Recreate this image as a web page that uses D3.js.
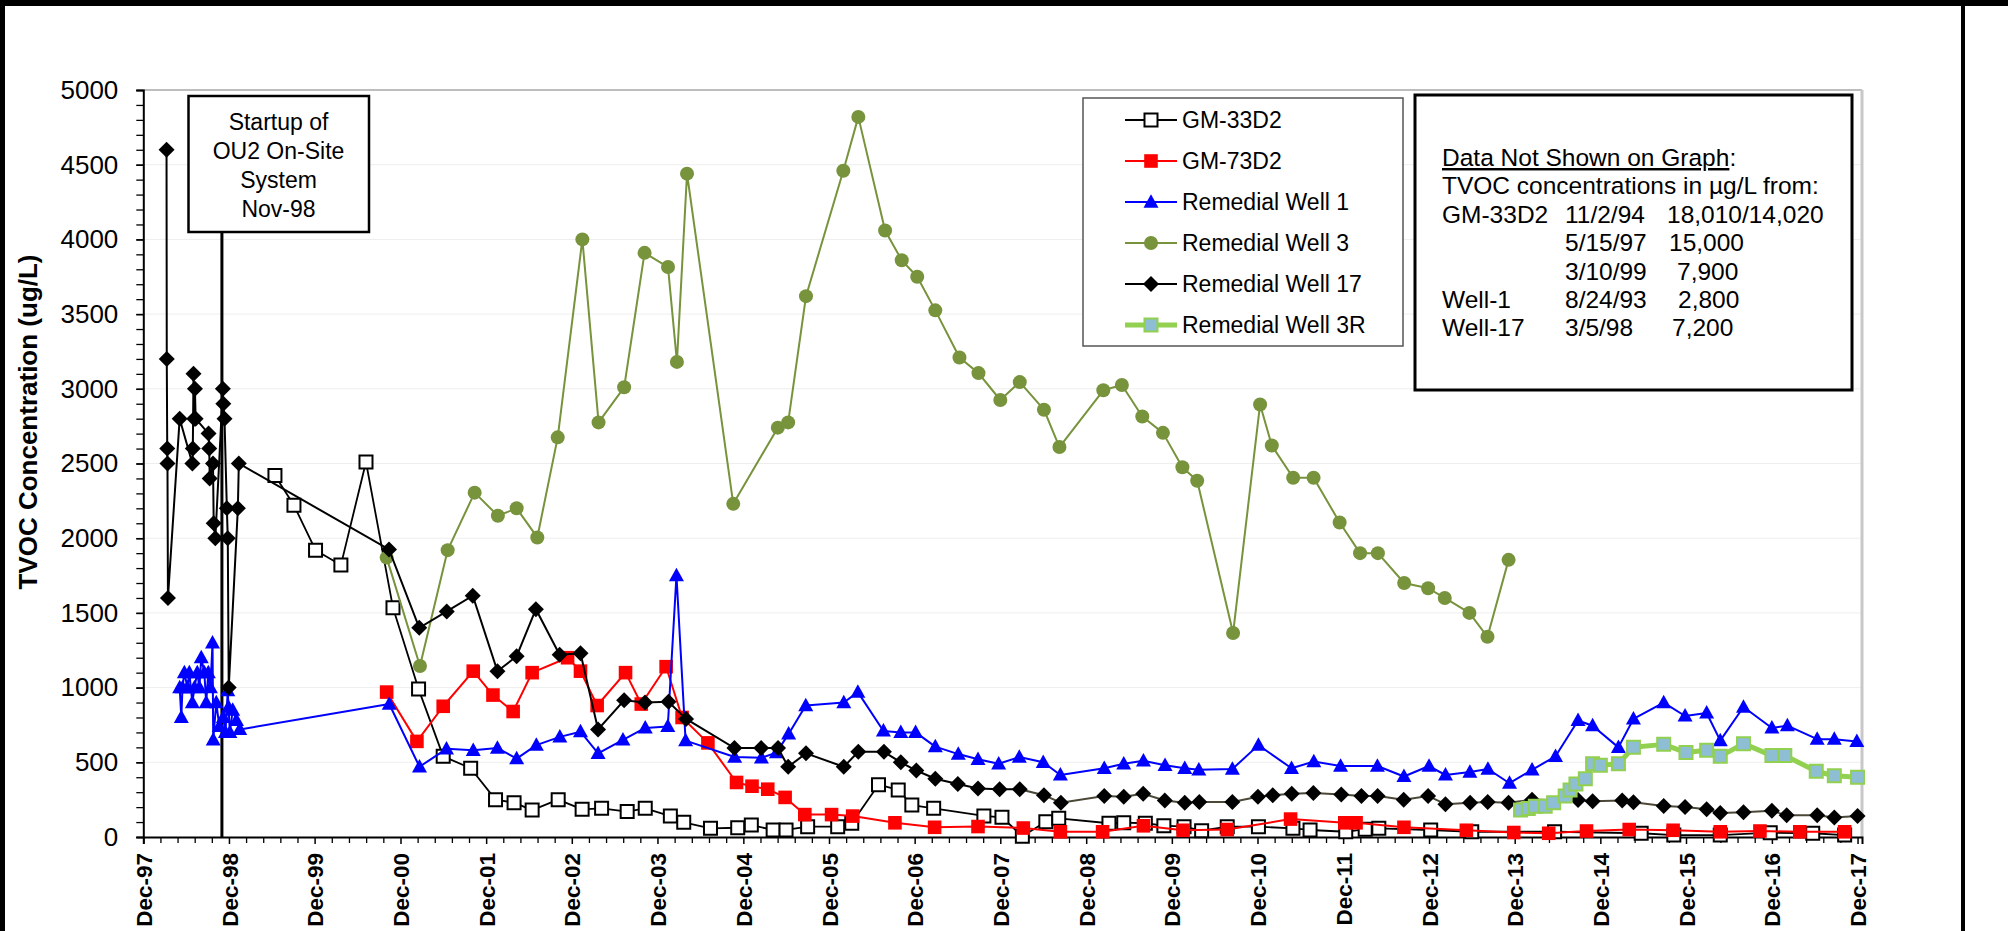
<!DOCTYPE html>
<html><head><meta charset="utf-8">
<script src="https://cdn.jsdelivr.net/npm/d3@7"></script>
<style>
body{margin:0;background:#fff;}
svg{display:block;font-family:Arial,"Liberation Sans",sans-serif;}
</style>
</head><body>
<svg id="c" width="2008" height="931"></svg>
<script>
// ---------------- DATA ----------------
const seriesNames = ["GM-33D2","GM-73D2","Remedial Well 1","Remedial Well 3","Remedial Well 17","Remedial Well 3R"];

const gm33d2 = [
["1999-06-15",2420],["1999-09-04",2220],["1999-12-05",1920],["2000-03-22",1820],["2000-07-07",2510],
["2000-10-30",1535],["2001-02-16",990],["2001-06-01",540],["2001-09-26",460],["2002-01-10",250],
["2002-03-30",230],["2002-06-15",180],["2002-10-04",250],["2003-01-14",185],["2003-04-07",192],
["2003-07-25",170],["2003-10-10",192],["2004-01-25",140],["2004-03-22",98],["2004-07-14",58],
["2004-11-07",62],["2005-01-04",80],["2005-04-07",47],["2005-06-01",47],["2005-09-01",69],
["2006-01-07",69],["2006-03-08",92],["2006-06-30",350],["2006-09-22",315],["2006-11-19",214],
["2007-02-20",192],["2007-09-22",141],["2007-12-08",132],["2008-03-04",5],["2008-06-12",102],
["2008-08-06",125],["2009-03-08",92],["2009-05-10",96],["2009-08-10",92],["2009-10-28",76],
["2010-01-22",69],["2010-04-07",42],["2010-07-25",69],["2010-12-05",69],["2011-05-01",58],
["2011-07-13",47],["2011-12-12",35],["2012-03-04",52],["2012-05-01",58],["2012-12-08",47],
["2013-06-01",35],["2014-05-20",35],["2015-05-24",25],["2015-10-10",13],["2016-04-25",13],
["2016-11-24",29],["2017-05-24",25],["2017-10-07",13]
];

const gm73d2 = [
["2000-10-03",970],["2001-02-09",640],["2001-06-01",875],["2001-10-07",1110],["2001-12-30",950],
["2002-03-26",840],["2002-06-15",1100],["2002-11-13",1200],["2003-01-07",1110],["2003-03-19",880],
["2003-07-18",1100],["2003-09-23",890],["2004-01-07",1140],["2004-03-15",800],["2004-07-03",630],
["2004-11-02",365],["2005-01-07",340],["2005-03-15",320],["2005-05-28",265],["2005-08-20",150],
["2005-12-12",150],["2006-03-12",140],["2006-09-08",95],["2007-02-24",65],["2007-08-28",70],
["2008-03-08",60],["2008-08-13",35],["2009-02-09",35],["2009-08-02",75],["2010-01-18",45],
["2010-07-25",50],["2011-04-21",120],["2011-12-08",95],["2012-01-25",95],["2012-08-16",65],
["2013-05-09",45],["2013-11-27",30],["2014-04-25",25],["2014-10-03",40],["2015-04-03",50],
["2015-10-07",45],["2016-04-25",35],["2016-10-11",40],["2017-03-30",35],["2017-10-07",35]
];

const well1 = [
["1998-05-05",1000],["1998-05-12",800],["1998-05-17",1000],["1998-05-25",1100],["1998-06-07",1000],
["1998-06-15",1100],["1998-06-28",900],["1998-07-07",1000],["1998-07-19",1100],["1998-07-28",1000],
["1998-08-05",1200],["1998-08-18",1100],["1998-08-26",900],["1998-09-04",1100],["1998-09-13",1000],
["1998-09-22",1300],["1998-09-25",650],["1998-10-08",900],["1998-10-21",740],["1998-11-07",800],
["1998-11-16",700],["1998-11-26",980],["1998-11-29",870],["1998-12-05",700],["1998-12-17",850],
["1999-01-02",780],["1999-01-16",720],
["2000-10-14",890],["2001-02-20",470],["2001-06-15",590],["2001-10-07",580],["2002-01-18",595],
["2002-04-10",525],["2002-07-03",615],["2002-10-11",670],["2003-01-07",705],["2003-03-23",560],
["2003-07-07",650],["2003-10-10",730],["2004-01-14",740],["2004-02-20",1750],["2004-03-30",645],
["2004-10-25",535],["2005-02-16",530],["2005-04-21",565],["2005-06-12",690],["2005-08-24",880],
["2006-02-02",900],["2006-04-03",970],["2006-07-21",710],["2006-10-03",700],["2006-12-05",700],
["2007-02-27",605],["2007-06-05",555],["2007-08-28",520],["2007-11-24",490],["2008-02-20",535],
["2008-06-01",500],["2008-08-13",415],["2009-02-16",460],["2009-05-10",490],["2009-08-02",510],
["2009-11-02",480],["2010-01-25",460],["2010-03-26",450],["2010-08-16",455],["2010-12-05",615],
["2011-04-25",460],["2011-07-29",505],["2011-11-20",475],["2012-04-25",475],["2012-08-16",405],
["2012-12-01",475],["2013-02-09",415],["2013-05-24",435],["2013-08-09",455],["2013-11-09",360],
["2014-02-13",450],["2014-05-24",540],["2014-08-28",780],["2014-10-29",745],["2015-02-16",600],
["2015-04-21",790],["2015-08-28",900],["2015-11-27",810],["2016-02-27",830],["2016-04-25",645],
["2016-08-02",870],["2016-12-01",730],["2017-02-05",745],["2017-06-12",655],["2017-08-24",655],
["2017-11-28",640]
];

const well3 = [
["2000-10-03",1870],["2001-02-22",1145],["2001-06-20",1920],["2001-10-13",2305],["2002-01-20",2150],
["2002-04-10",2200],["2002-07-07",2005],["2002-10-02",2675],["2003-01-15",4000],["2003-03-25",2775],
["2003-07-12",3010],["2003-10-07",3910],["2004-01-15",3815],["2004-02-22",3180],["2004-04-05",4440],
["2004-10-19",2230],["2005-04-27",2740],["2005-06-10",2775],["2005-08-25",3620],["2006-01-31",4460],
["2006-04-05",4820],["2006-07-28",4060],["2006-10-07",3860],["2006-12-12",3750],["2007-02-27",3525],
["2007-06-10",3210],["2007-08-30",3105],["2007-12-01",2925],["2008-02-22",3045],["2008-06-04",2860],
["2008-08-09",2610],["2009-02-12",2990],["2009-05-02",3025],["2009-07-28",2815],["2009-10-24",2705],
["2010-01-15",2475],["2010-03-19",2385],["2010-08-19",1365],["2010-12-12",2895],["2011-01-31",2620],
["2011-05-02",2405],["2011-07-28",2405],["2011-11-16",2105],["2012-02-11",1900],["2012-04-27",1900],
["2012-08-17",1700],["2012-11-27",1665],["2013-02-06",1600],["2013-05-22",1500],["2013-08-07",1340],
["2013-11-05",1855]
];

const well17 = [
["1998-03-10",4600],["1998-03-11",3200],["1998-03-13",2600],["1998-03-14",2500],["1998-03-16",1600],
["1998-05-05",2800],["1998-06-28",2500],["1998-06-30",2600],["1998-07-03",3100],["1998-07-06",2800],
["1998-07-09",3000],["1998-07-12",2800],["1998-09-05",2700],["1998-09-08",2600],["1998-09-10",2400],
["1998-09-24",2500],["1998-09-27",2100],["1998-10-04",2000],["1998-11-05",3000],["1998-11-07",2900],
["1998-11-12",2800],["1998-11-22",2200],["1998-11-26",2000],["1998-11-30",1000],["1999-01-08",2200],
["1999-01-12",2500],
["2000-10-13",1925],["2001-02-19",1400],["2001-06-16",1510],["2001-10-05",1615],["2002-01-18",1110],
["2002-04-10",1210],["2002-07-01",1525],["2002-10-10",1220],["2003-01-07",1230],["2003-03-23",720],
["2003-07-12",915],["2003-10-09",900],["2004-01-17",905],["2004-04-01",790],["2004-10-24",595],
["2005-02-15",595],["2005-04-28",595],["2005-06-10",470],["2005-08-25",560],["2006-02-02",470],
["2006-04-05",570],["2006-07-23",570],["2006-10-03",500],["2006-12-08",445],["2007-02-27",390],
["2007-06-03",355],["2007-08-28",325],["2007-11-28",320],["2008-02-22",320],["2008-06-04",280],
["2008-08-15",230],["2009-02-16",275],["2009-05-10",270],["2009-08-01",290],["2009-11-01",245],
["2010-01-25",230],["2010-03-28",235],["2010-08-16",235],["2010-12-03",270],["2011-02-04",280],
["2011-04-26",290],["2011-07-27",295],["2011-11-23",285],["2012-02-17",275],["2012-04-26",275],
["2012-08-15",250],["2012-11-27",275],["2013-02-09",220],["2013-05-25",230],["2013-08-08",235],
["2013-11-05",230],["2014-02-13",250],["2014-08-28",248],["2014-10-29",240],["2015-03-04",245],
["2015-04-21",232],["2015-08-28",207],["2015-11-27",200],["2016-02-27",185],["2016-04-25",160],
["2016-08-02",165],["2016-12-01",175],["2017-02-02",145],["2017-06-12",145],["2017-08-24",130],
["2017-12-01",140]
];

const well3R = [
["2013-12-26",180],["2014-01-28",190],["2014-02-27",205],["2014-04-10",205],["2014-05-16",230],
["2014-07-04",275],["2014-07-25",315],["2014-08-19",355],["2014-09-28",390],["2014-10-29",490],
["2014-12-01",480],["2015-02-16",490],["2015-04-21",600],["2015-08-28",620],["2015-12-01",565],
["2016-02-27",580],["2016-04-25",540],["2016-08-02",625],["2016-12-01",545],["2017-01-25",545],
["2017-06-08",440],["2017-08-24",410],["2017-12-01",400]
];

const yTicks = [0,500,1000,1500,2000,2500,3000,3500,4000,4500,5000];
const xTickYears = d3.range(1997, 2018); // Dec of each year
const startupLines = ["Startup of","OU2 On-Site","System","Nov-98"];
const startupDate = "1998-11-01";
const noteTitle = "Data Not Shown on Graph";
const noteRows = [
  ["TVOC concentrations in \u00b5g/L from:"],
  ["GM-33D2","11/2/94","18,010/14,020"],
  ["","5/15/97","15,000"],
  ["","3/10/99","7,900"],
  ["Well-1","8/24/93","2,800"],
  ["Well-17","3/5/98","7,200"]
];
const yTitle = "TVOC Concentration (ug/L)";

// ---------------- CHART ----------------
const parse = d3.timeParse("%Y-%m-%d");
const svg = d3.select("#c");
const L = 143.3, R = 1862, T = 90, B = 837;
const x = d3.scaleTime().domain([new Date(1997,11,1), new Date(2017,11,20)]).range([L, R]);
const y = d3.scaleLinear().domain([0,5000]).range([B, T]);

// outer frame
svg.append("rect").attr("x",0).attr("y",0).attr("width",2008).attr("height",931).attr("fill","#fff");
svg.append("rect").attr("x",0).attr("y",0).attr("width",2008).attr("height",6).attr("fill","#000");
svg.append("rect").attr("x",0).attr("y",0).attr("width",5).attr("height",931).attr("fill","#000");
svg.append("rect").attr("x",1961).attr("y",0).attr("width",4).attr("height",931).attr("fill","#000");

// gridlines
svg.append("g").selectAll("line").data(yTicks.filter(d=>d>0 && d<5000)).join("line")
  .attr("x1",L).attr("x2",R).attr("y1",d=>y(d)).attr("y2",d=>y(d))
  .attr("stroke","#eeeeee").attr("stroke-width",1);
// top and right border of plot area
svg.append("line").attr("x1",L).attr("x2",R).attr("y1",T).attr("y2",T).attr("stroke","#bdbdbd").attr("stroke-width",2);
svg.append("line").attr("x1",R).attr("x2",R).attr("y1",T).attr("y2",B).attr("stroke","#c8c8c8").attr("stroke-width",3);

// y axis
const yMinor = d3.range(0,5001,100);
const gyMinor = svg.append("g").attr("transform",`translate(${L},0)`)
  .call(d3.axisLeft(y).tickValues(yMinor).tickSize(7).tickFormat(""));
gyMinor.select(".domain").remove();
gyMinor.selectAll("line").attr("stroke","#000").attr("stroke-width",1.3);
const gy = svg.append("g").attr("transform",`translate(${L},0)`)
  .call(d3.axisLeft(y).tickValues(yTicks).tickSize(7).tickPadding(18).tickFormat(d3.format("d")));
gy.select(".domain").attr("stroke","#000").attr("stroke-width",2);
gy.selectAll("line").attr("stroke","#000").attr("stroke-width",1.5);
gy.selectAll("text").attr("font-size",26).attr("fill","#000").attr("font-family","Arial, 'Liberation Sans', sans-serif");

// x axis
const majorDates = xTickYears.map(yr => new Date(yr,11,1));
const minorDates = [];
for (let i=0;i<majorDates.length-1;i++){
  const a = +majorDates[i], b = +majorDates[i+1];
  for (let k=1;k<5;k++) minorDates.push(new Date(a + (b-a)*k/5));
}
const gxMinor = svg.append("g").attr("transform",`translate(0,${B})`)
  .call(d3.axisBottom(x).tickValues(minorDates).tickSize(6).tickFormat(""));
gxMinor.select(".domain").remove();
gxMinor.selectAll("line").attr("stroke","#000").attr("stroke-width",1.3);
const gx = svg.append("g").attr("transform",`translate(0,${B})`)
  .call(d3.axisBottom(x).tickValues(majorDates).tickSize(7).tickFormat(d3.timeFormat("Dec-%y")));
gx.select(".domain").attr("stroke","#000").attr("stroke-width",2);
gx.selectAll("line").attr("stroke","#000").attr("stroke-width",1.5);
gx.selectAll("text")
  .attr("font-size",22.5).attr("font-weight","bold").attr("fill","#000")
  .attr("font-family","Arial, 'Liberation Sans', sans-serif")
  .attr("transform","rotate(-90)")
  .attr("text-anchor","end").attr("x",-16).attr("y",0).attr("dy","0.36em");

// y title
svg.append("text").attr("transform","translate(37,422) rotate(-90)")
  .attr("text-anchor","middle").attr("font-size",26).attr("font-weight","bold").text(yTitle);

// startup line
svg.append("line").attr("x1",x(parse(startupDate))).attr("x2",x(parse(startupDate)))
  .attr("y1",232).attr("y2",B).attr("stroke","#000").attr("stroke-width",3);

// series
const lineGen = d3.line().x(d=>x(d.date)).y(d=>y(d.value));
const prep = arr => arr.map(([d,v]) => ({date: parse(d), value: v}));

const shapes = {
  square: s => `M${-s},${-s}H${s}V${s}H${-s}Z`,
  tri: s => `M0,${-s*1.05}L${s},${s*0.75}L${-s},${s*0.75}Z`,
  diamond: s => `M0,${-s}L${s},0L0,${s}L${-s},0Z`
};

const styles = [
  {data:gm33d2, stroke:"#000", sw:1.8, marker:"square", ms:6.5, fill:"#fff", mstroke:"#000", msw:2},
  {data:gm73d2, stroke:"#ff0000", sw:2, marker:"square", ms:6.8, fill:"#ff0000", mstroke:"none", msw:0},
  {data:well1, stroke:"#0000ff", sw:2, marker:"tri", ms:7.5, fill:"#0000ff", mstroke:"none", msw:0},
  {data:well3, stroke:"#77933c", sw:2, marker:"circle", ms:7, fill:"#77933c", mstroke:"none", msw:0},
  {data:well17, stroke:"#000", sw:2, marker:"diamond", ms:8, fill:"#000", mstroke:"none", msw:0},
  {data:well3R, stroke:"#92d050", sw:5, marker:"square", ms:6.5, fill:"#8dbed4", mstroke:"#92d050", msw:2}
];

function drawMarkers(g, pts, st){
  if (st.marker === "circle") {
    g.selectAll("circle").data(pts).join("circle")
      .attr("cx",d=>x(d.date)).attr("cy",d=>y(d.value)).attr("r",st.ms)
      .attr("fill",st.fill);
  } else {
    g.selectAll("path.m").data(pts).join("path").attr("class","m")
      .attr("d",shapes[st.marker](st.ms))
      .attr("transform",d=>`translate(${x(d.date)},${y(d.value)})`)
      .attr("fill",st.fill).attr("stroke",st.mstroke).attr("stroke-width",st.msw);
  }
}

styles.forEach((st,i) => {
  const pts = prep(st.data);
  const g = svg.append("g");
  if (i === 4) {
    const cut = parse("2008-06-01");
    const a = pts.filter(d=>d.date<=cut), b = pts.filter(d=>d.date>=parse("2008-02-01"));
    g.append("path").attr("d",lineGen(a)).attr("fill","none").attr("stroke","#000").attr("stroke-width",st.sw);
    g.append("path").attr("d",lineGen(b)).attr("fill","none").attr("stroke","#4b4838").attr("stroke-width",st.sw);
  } else {
    g.append("path").attr("d",lineGen(pts)).attr("fill","none").attr("stroke",st.stroke)
      .attr("stroke-width",st.sw).attr("stroke-linejoin","round");
  }
  drawMarkers(g, pts, st);
});

// startup box
svg.append("rect").attr("x",188.5).attr("y",96).attr("width",180.5).attr("height",136)
  .attr("fill","#fff").attr("stroke","#000").attr("stroke-width",2.5);
svg.append("text").attr("text-anchor","middle").attr("font-size",23)
  .selectAll("tspan").data(startupLines).join("tspan")
  .attr("x",278.5).attr("y",(d,i)=>130+i*29).text(d=>d);

// legend
const leg = svg.append("g");
leg.append("rect").attr("x",1083).attr("y",98).attr("width",320).attr("height",248)
  .attr("fill","#fff").attr("stroke","#555").attr("stroke-width",1.5);
styles.forEach((st,i) => {
  const cy = 120 + i*41;
  const g = leg.append("g");
  g.append("line").attr("x1",1125).attr("x2",1177).attr("y1",cy).attr("y2",cy)
    .attr("stroke",st.stroke).attr("stroke-width",st.sw);
  const pt = [{date:null,value:null}];
  if (st.marker === "circle") {
    g.append("circle").attr("cx",1151).attr("cy",cy).attr("r",st.ms).attr("fill",st.fill);
  } else {
    g.append("path").attr("d",shapes[st.marker](st.ms)).attr("transform",`translate(1151,${cy})`)
      .attr("fill",st.fill).attr("stroke",st.mstroke).attr("stroke-width",st.msw);
  }
  g.append("text").attr("x",1182).attr("y",cy+8).attr("font-size",23).text(seriesNames[i]);
});

// note box
const nb = svg.append("g");
nb.append("rect").attr("x",1415).attr("y",95).attr("width",437).attr("height",295)
  .attr("fill","#fff").attr("stroke","#000").attr("stroke-width",3);
const t0 = nb.append("text").attr("x",1442).attr("y",166).attr("font-size",24.5);
t0.append("tspan").attr("text-decoration","underline").text(noteTitle);
t0.append("tspan").text(":");
const colX = [1442, 1565, 1668];
noteRows.forEach((row,i) => {
  const yy = 194.3 + i*28.4;
  row.forEach((s,j) => {
    if (!s) return;
    let xx = colX[j];
    if (j===2 && i>=1) xx = [1667,1669,1677,1678,1672][i-1];
    nb.append("text").attr("x",xx).attr("y",yy).attr("font-size",24.5).text(s);
  });
});
</script>
</body></html>
